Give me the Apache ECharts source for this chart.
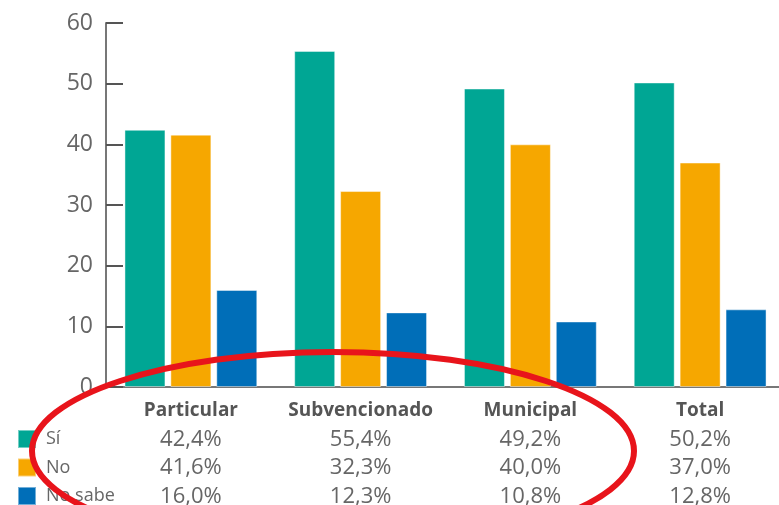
<!DOCTYPE html>
<html>
<head>
<meta charset="utf-8">
<script src="https://cdn.jsdelivr.net/npm/echarts@6/dist/echarts.min.js"></script>
<style>
  html, body { margin: 0; padding: 0; background: #fff; }
  #chart { width: 779px; height: 505px; }
</style>
</head>
<body>
<div id="chart"></div>
<script>
// values (percent)
const categories = ['Particular', 'Subvencionado', 'Municipal', 'Total'];
const seriesNames = ['Sí', 'No', 'No sabe'];
const si = [42.4, 55.4, 49.2, 50.2];
const no = [41.6, 32.3, 40.0, 37.0];
const noSabe = [16.0, 12.3, 10.8, 12.8];
const yTicks = [0, 10, 20, 30, 40, 50, 60];

const colors = ['#00a694', '#f6a700', '#006eb8'];
const font = 'Open Sans';

function pct(v) {
  return v.toFixed(1).replace('.', ',') + '%';
}

const chart = echarts.init(document.getElementById('chart'));

const barStyle = {
  borderColor: 'rgba(255,255,255,0.45)',
  borderWidth: 1
};

// one legend per row so they line up with the table rows
const legends = seriesNames.map(function (name, i) {
  return {
    orient: 'vertical',
    left: 17,
    top: 429 + i * 28.5,
    icon: 'rect',
    itemWidth: 18,
    itemHeight: 18,
    padding: 0,
    data: [name],
    textStyle: { color: '#666', fontSize: 18, fontFamily: font, padding: [0, 0, 0, 5] }
  };
});

const option = {
  animation: false,
  textStyle: { fontFamily: font },
  color: colors,
  grid: { left: 106, right: -6, top: 23, bottom: 118, outerBoundsMode: 'none' },
  legend: legends,
  xAxis: {
    type: 'category',
    data: categories,
    axisLine: { lineStyle: { color: '#777', width: 2 } },
    axisTick: { inside: true, length: 8, lineStyle: { color: '#555', width: 2 } },
    axisLabel: {
      margin: 10,
      interval: 0,
      formatter: function (val, i) {
        return '{c|' + val + '}\n{v|' + pct(si[i]) + '}\n{v|' + pct(no[i]) + '}\n{v|' + pct(noSabe[i]) + '}';
      },
      rich: {
        c: { fontSize: 19, fontWeight: 'bold', color: '#555', lineHeight: 28, fontFamily: font },
        v: { fontSize: 22, color: '#666', lineHeight: 28.5, fontFamily: font }
      }
    }
  },
  yAxis: {
    type: 'value',
    min: yTicks[0],
    max: yTicks[yTicks.length - 1],
    interval: 10,
    splitLine: { show: false },
    axisLine: { show: true, lineStyle: { color: '#777', width: 2 } },
    axisTick: { show: true, inside: true, length: 17, lineStyle: { color: '#555', width: 2 } },
    axisLabel: { margin: 13, fontSize: 23, color: '#666', fontFamily: font }
  },
  series: [
    { name: seriesNames[0], type: 'bar', data: si, barWidth: 41, barGap: '12%', itemStyle: barStyle },
    { name: seriesNames[1], type: 'bar', data: no, barWidth: 41, barGap: '12%', itemStyle: barStyle },
    { name: seriesNames[2], type: 'bar', data: noSabe, barWidth: 41, barGap: '12%', itemStyle: barStyle }
  ],
  graphic: [
    {
      type: 'ellipse',
      z: 100,
      shape: { cx: 333, cy: 451, rx: 301, ry: 99 },
      style: { fill: 'none', stroke: '#e8141b', lineWidth: 6 }
    }
  ]
};

chart.setOption(option);
</script>
</body>
</html>
